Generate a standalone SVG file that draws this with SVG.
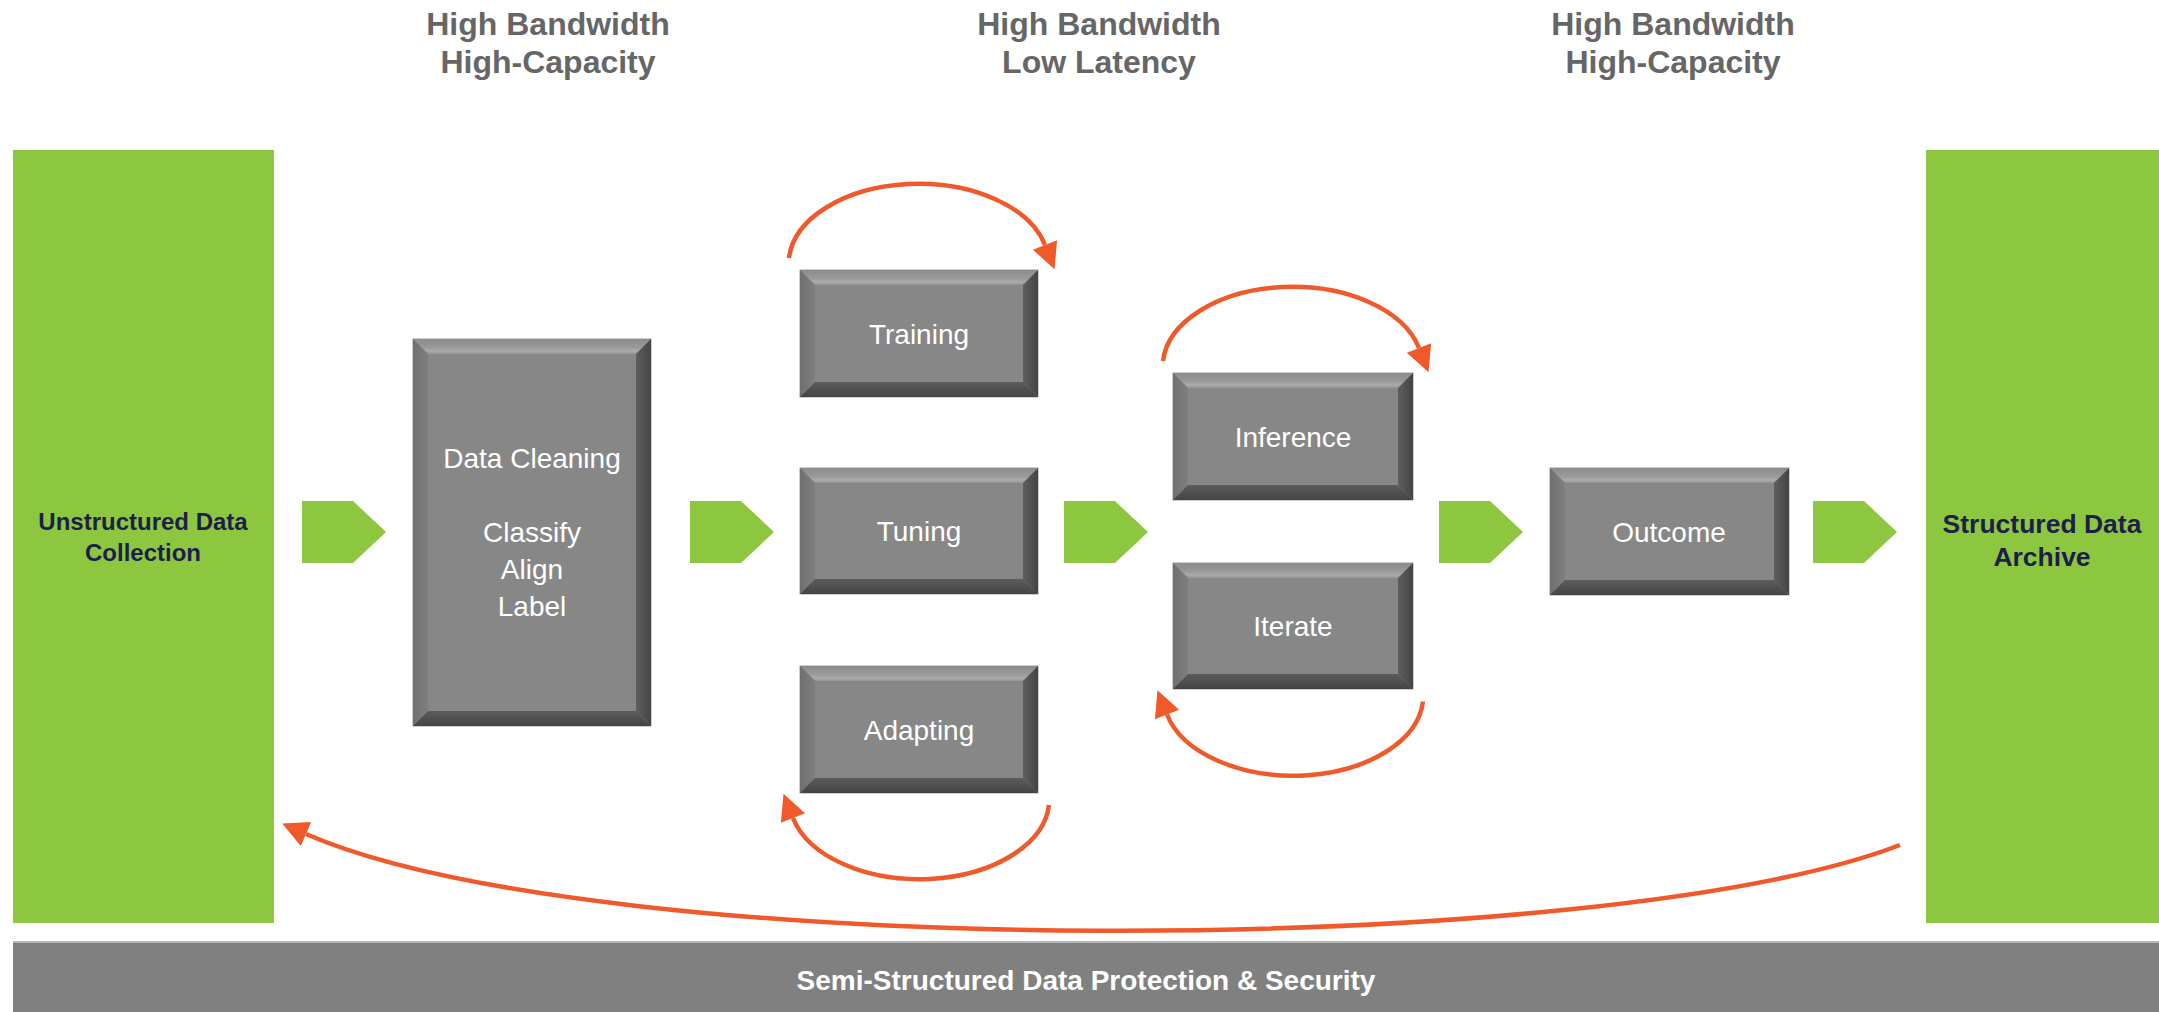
<svg xmlns="http://www.w3.org/2000/svg" width="2159" height="1012" viewBox="0 0 2159 1012">
  <style>
    .head { font-family: "Liberation Sans", Arial, sans-serif; font-weight: bold; font-size: 32px; fill: #666666; text-anchor: middle; }
    .store { font-family: "Liberation Sans", Arial, sans-serif; font-weight: bold; fill: #1e1e4c; text-anchor: middle; }
    .lbl { font-family: "Liberation Sans", Arial, sans-serif; font-size: 28px; fill: #ffffff; text-anchor: middle; }
    .bar-text { font-family: "Liberation Sans", Arial, sans-serif; font-weight: bold; font-size: 28px; fill: #ffffff; text-anchor: middle; }
    .green { fill: #8dc63f; }
    .face { fill: #878787; stroke: #9c9c9c; stroke-width: 1; }
    .bt { fill: url(#bevTop); }
    .bl { fill: url(#bevLeft); }
    .br { fill: url(#bevRight); }
    .bb { fill: url(#bevBottom); }
    .loop { fill: none; stroke: #f05a2b; stroke-width: 4.5; marker-end: url(#head); }
  </style>
  <defs>
    <linearGradient id="bevTop" x1="0" y1="0" x2="0" y2="1">
      <stop offset="0" stop-color="#8c8c8c"/>
      <stop offset="0.55" stop-color="#999999"/>
      <stop offset="0.8" stop-color="#ababab"/>
      <stop offset="1" stop-color="#959595"/>
    </linearGradient>
    <linearGradient id="bevLeft" x1="0" y1="0" x2="1" y2="0">
      <stop offset="0" stop-color="#6f6f6f"/>
      <stop offset="1" stop-color="#7f7f7f"/>
    </linearGradient>
    <linearGradient id="bevRight" x1="0" y1="0" x2="1" y2="0">
      <stop offset="0" stop-color="#5e5e5e"/>
      <stop offset="1" stop-color="#444444"/>
    </linearGradient>
    <linearGradient id="bevBottom" x1="0" y1="0" x2="0" y2="1">
      <stop offset="0" stop-color="#5c5c5c"/>
      <stop offset="1" stop-color="#444444"/>
    </linearGradient>
    <marker id="head" markerUnits="userSpaceOnUse" viewBox="-2 -15 32 30" markerWidth="32" markerHeight="30" refX="0" refY="0" orient="auto">
      <path d="M0,-13 L26,0 L0,13 z" fill="#f05a2b"/>
    </marker>
    <polygon id="chev" points="0,501 51,501 84,532 51,563 0,563" fill="#8dc63f"/>
  </defs>

  <rect width="2159" height="1012" fill="#ffffff"/>

  <!-- column headings -->
  <g id="headings">
    <text class="head" x="548" y="35">High Bandwidth</text>
    <text class="head" x="548" y="73">High-Capacity</text>
    <text class="head" x="1099" y="35">High Bandwidth</text>
    <text class="head" x="1099" y="73">Low Latency</text>
    <text class="head" x="1673" y="35">High Bandwidth</text>
    <text class="head" x="1673" y="73">High-Capacity</text>
  </g>

  <!-- data stores at both ends -->
  <g id="unstructured">
    <rect class="green" x="13" y="150" width="261" height="773"/>
    <text class="store" font-size="24" x="143" y="530">Unstructured Data</text>
    <text class="store" font-size="24" x="143" y="561">Collection</text>
  </g>
  <g id="structured">
    <rect class="green" x="1926" y="150" width="233" height="773"/>
    <text class="store" font-size="26.5" x="2042" y="533">Structured Data</text>
    <text class="store" font-size="26.5" x="2042" y="566">Archive</text>
  </g>

  <!-- security band -->
  <g id="security">
    <rect x="13" y="942" width="2146" height="70" fill="#808080"/>
    <line x1="13" y1="942" x2="2159" y2="942" stroke="#b5b5b5" stroke-width="2"/>
    <text class="bar-text" x="1086" y="990">Semi-Structured Data Protection &amp; Security</text>
  </g>

  <!-- bevelled process boxes -->
  <g id="cleaning">
    <rect class="face" x="413" y="339" width="238" height="387"/>
    <polygon class="bt" points="413,339 651,339 636,354 428,354"/>
    <polygon class="bl" points="413,339 428,354 428,711 413,726"/>
    <polygon class="br" points="651,339 651,726 636,711 636,354"/>
    <polygon class="bb" points="413,726 651,726 636,711 428,711"/>
    <text class="lbl" x="532" y="468">Data Cleaning</text>
    <text class="lbl" x="532" y="542">Classify</text>
    <text class="lbl" x="532" y="579">Align</text>
    <text class="lbl" x="532" y="616">Label</text>
  </g>
  <g id="training">
    <rect class="face" x="800" y="270" width="238" height="127"/>
    <polygon class="bt" points="800,270 1038,270 1023,285 815,285"/>
    <polygon class="bl" points="800,270 815,285 815,382 800,397"/>
    <polygon class="br" points="1038,270 1038,397 1023,382 1023,285"/>
    <polygon class="bb" points="800,397 1038,397 1023,382 815,382"/>
    <text class="lbl" x="919" y="344">Training</text>
  </g>
  <g id="tuning">
    <rect class="face" x="800" y="468" width="238" height="126"/>
    <polygon class="bt" points="800,468 1038,468 1023,483 815,483"/>
    <polygon class="bl" points="800,468 815,483 815,579 800,594"/>
    <polygon class="br" points="1038,468 1038,594 1023,579 1023,483"/>
    <polygon class="bb" points="800,594 1038,594 1023,579 815,579"/>
    <text class="lbl" x="919" y="541">Tuning</text>
  </g>
  <g id="adapting">
    <rect class="face" x="800" y="666" width="238" height="127"/>
    <polygon class="bt" points="800,666 1038,666 1023,681 815,681"/>
    <polygon class="bl" points="800,666 815,681 815,778 800,793"/>
    <polygon class="br" points="1038,666 1038,793 1023,778 1023,681"/>
    <polygon class="bb" points="800,793 1038,793 1023,778 815,778"/>
    <text class="lbl" x="919" y="740">Adapting</text>
  </g>
  <g id="inference">
    <rect class="face" x="1173" y="373" width="240" height="127"/>
    <polygon class="bt" points="1173,373 1413,373 1398,388 1188,388"/>
    <polygon class="bl" points="1173,373 1188,388 1188,485 1173,500"/>
    <polygon class="br" points="1413,373 1413,500 1398,485 1398,388"/>
    <polygon class="bb" points="1173,500 1413,500 1398,485 1188,485"/>
    <text class="lbl" x="1293" y="447">Inference</text>
  </g>
  <g id="iterate">
    <rect class="face" x="1173" y="563" width="240" height="126"/>
    <polygon class="bt" points="1173,563 1413,563 1398,578 1188,578"/>
    <polygon class="bl" points="1173,563 1188,578 1188,674 1173,689"/>
    <polygon class="br" points="1413,563 1413,689 1398,674 1398,578"/>
    <polygon class="bb" points="1173,689 1413,689 1398,674 1188,674"/>
    <text class="lbl" x="1293" y="636">Iterate</text>
  </g>
  <g id="outcome">
    <rect class="face" x="1550" y="468" width="239" height="127"/>
    <polygon class="bt" points="1550,468 1789,468 1774,483 1565,483"/>
    <polygon class="bl" points="1550,468 1565,483 1565,580 1550,595"/>
    <polygon class="br" points="1789,468 1789,595 1774,580 1774,483"/>
    <polygon class="bb" points="1550,595 1789,595 1774,580 1565,580"/>
    <text class="lbl" x="1669" y="542">Outcome</text>
  </g>

  <!-- connectors: flow chevrons, loop-back arcs and the return path -->
  <g id="connectors">
    <use href="#chev" x="302"/>
    <use href="#chev" x="690"/>
    <use href="#chev" x="1064"/>
    <use href="#chev" x="1439"/>
    <use href="#chev" x="1813"/>
    <path class="loop" transform="translate(919 333.5)" d="M -130 -75.5 A 130 80 0 0 1 126 -88.5"/>
    <path class="loop" transform="translate(1293 436.5)" d="M -130 -75.5 A 130 80 0 0 1 126 -88.5"/>
    <path class="loop" transform="translate(919 729.5) rotate(180)" d="M -130 -75.5 A 130 80 0 0 1 126 -88.5"/>
    <path class="loop" transform="translate(1293 626) rotate(180)" d="M -130 -75.5 A 130 80 0 0 1 126 -88.5"/>
    <path class="loop" d="M 1900 845 C 1600 960, 600 962, 306 834"/>
  </g>
</svg>
